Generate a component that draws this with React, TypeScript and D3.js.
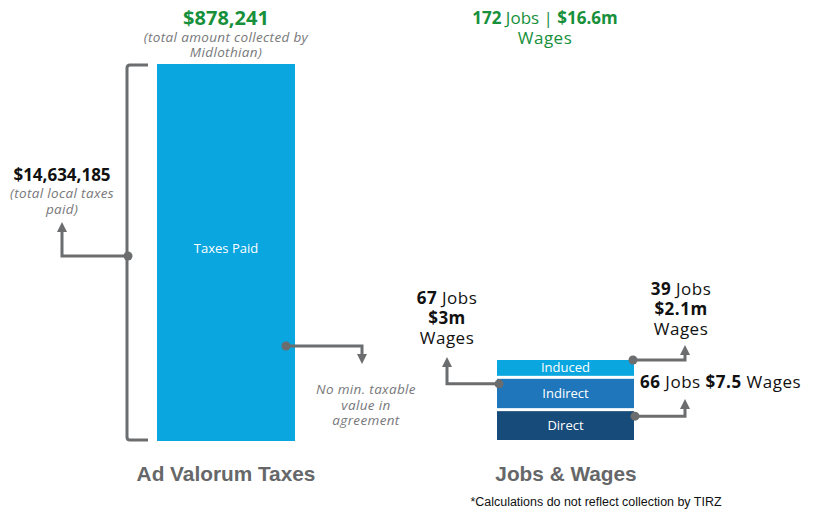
import React from 'react';
import * as d3 from 'd3';

// ad valorum taxes
const taxLabels = ['Taxes Paid'];
const taxValues = [14634185];
const taxCollected = 878241;

// jobs & wages, stacked bottom to top
const jobCategories = ['Direct', 'Indirect', 'Induced'];
const jobCounts = [66, 67, 39];
const jobWages = ['$7.5', '$3m', '$2.1m'];
const totalWages = '$16.6m';

const W = 817;
const H = 512;
const FONT = "'Open Sans', sans-serif";
const GREEN = '#17903b';
const LINE = '#6b6d6f';
const GREY_TXT = '#77787a';
const segColors = ['#174b7a', '#1f76ba', '#09a6df'];

function Arrow({ x, y, dir }: { x: number; y: number; dir: 'up' | 'down' }) {
  const s = dir === 'up' ? 1 : -1;
  const p = `M${x},${y} L${x - 5},${y + 10 * s} L${x + 5},${y + 10 * s} Z`;
  return <path d={p} fill={LINE} />;
}

const italic = { fill: GREY_TXT, fontStyle: 'italic', fontSize: 13.5, letterSpacing: 0.35 } as const;
const callout = { fill: '#111', fontSize: 17, letterSpacing: 0.5 } as const;

export default function App() {
  const totalJobs = d3.sum(jobCounts);

  // left bar
  const xTax = d3.scaleBand().domain(taxLabels).range([157, 295]).padding(0);
  const yTax = d3.scaleLinear().domain([0, d3.max(taxValues) as number]).range([441, 64]);

  // right stacked bar
  const xJobs = d3.scaleBand().domain(['Jobs']).range([497, 634]).padding(0);
  const yJobs = d3.scaleLinear().domain([0, totalJobs]).range([443, 360]);
  const row: Record<string, number> = {};
  jobCategories.forEach((c, i) => (row[c] = jobCounts[i]));
  const stacked = d3.stack<Record<string, number>>().keys(jobCategories)([row]);
  const gap = 3;

  const bx = xTax('Taxes Paid') as number;
  const bw = xTax.bandwidth();
  const top = yTax(taxValues[0]);
  const bot = yTax(0);
  const bracketX = bx - 30;
  const midY = yTax(taxValues[0] * 0.5) - 4;

  const jx = xJobs('Jobs') as number;
  const jw = xJobs.bandwidth();
  const segTop = (i: number) => yJobs(stacked[i][0][1]);

  const indirectDot = { x: jx + 2, y: segTop(1) + 5 };
  const inducedDot = { x: jx + jw - 1, y: segTop(2) };
  const directDot = { x: jx + jw + 1, y: segTop(0) + 5 };
  const elbowR = 685;
  const elbowL = 447;

  return (
    <div style={{ position: 'absolute', left: 0, top: 0 }}>
      <svg width={W} height={H} style={{ display: 'block', background: '#fff' }} fontFamily={FONT}>
        {/* headers */}
        <text x={226} y={25} textAnchor="middle" fill={GREEN} fontWeight={700} fontSize={20}>
          ${d3.format(',')(taxCollected)}
        </text>
        <text x={226} y={42} textAnchor="middle" {...italic}>(total amount collected by</text>
        <text x={226} y={57} textAnchor="middle" {...italic}>Midlothian)</text>

        <text x={545} y={24} textAnchor="middle" fill={GREEN} fontSize={17}>
          <tspan fontWeight={700}>{totalJobs}</tspan> Jobs | <tspan fontWeight={700}>{totalWages}</tspan>
        </text>
        <text x={545} y={44} textAnchor="middle" fill={GREEN} fontSize={17} letterSpacing={0.5}>Wages</text>

        {/* taxes bar */}
        {taxValues.map((v, i) => (
          <g key={taxLabels[i]}>
            <rect x={xTax(taxLabels[i])} y={yTax(v)} width={bw} height={yTax(0) - yTax(v)} fill="#09a6df" />
            <text x={bx + bw / 2} y={midY} dy="0.35em" textAnchor="middle" fill="#fff" fontSize={13}>
              {taxLabels[i]}
            </text>
          </g>
        ))}

        {/* bracket */}
        <path
          d={`M${bx - 9},${top + 1} L${bracketX + 3},${top + 1} Q${bracketX},${top + 1} ${bracketX},${top + 4} L${bracketX},${bot - 4} Q${bracketX},${bot - 1} ${bracketX + 3},${bot - 1} L${bx - 9},${bot - 1}`}
          fill="none" stroke={LINE} strokeWidth={3}
        />
        <circle cx={bracketX + 1} cy={256} r={4.5} fill={LINE} />
        <path d={`M${bracketX + 1},256 L62,256 L62,231`} fill="none" stroke={LINE} strokeWidth={3} />
        <Arrow x={62} y={222} dir="up" />
        <text x={62} y={181} textAnchor="middle" fill="#111" fontWeight={700} fontSize={17}>
          ${d3.format(',')(taxValues[0])}
        </text>
        <text x={62} y={198} textAnchor="middle" {...italic}>(total local taxes</text>
        <text x={62} y={214} textAnchor="middle" {...italic}>paid)</text>

        {/* no min taxable */}
        <circle cx={bx + bw - 9} cy={346} r={4.5} fill={LINE} />
        <path d={`M${bx + bw - 9},346 L362,346 L362,356`} fill="none" stroke={LINE} strokeWidth={3} />
        <Arrow x={362} y={364} dir="down" />
        {['No min. taxable', 'value in', 'agreement'].map((t, i) => (
          <text key={t} x={366} y={394 + i * 15.5} textAnchor="middle" {...italic}>{t}</text>
        ))}

        {/* stacked jobs bar */}
        {stacked.map((s, i) => {
          const y0 = yJobs(s[0][0]);
          const y1 = yJobs(s[0][1]);
          return (
            <g key={s.key}>
              <rect x={jx} y={y1} width={jw} height={y0 - y1 - gap} fill={segColors[i]} />
              <text x={jx + jw / 2} y={(y0 - gap + y1) / 2} dy="0.35em" textAnchor="middle" fill="#fff" fontSize={13}>
                {s.key}
              </text>
            </g>
          );
        })}

        {/* indirect callout */}
        <circle cx={indirectDot.x} cy={indirectDot.y} r={4.5} fill={LINE} />
        <path d={`M${indirectDot.x},${indirectDot.y} L${elbowL},${indirectDot.y} L${elbowL},367`} fill="none" stroke={LINE} strokeWidth={3} />
        <Arrow x={elbowL} y={357} dir="up" />
        <text x={447} y={304} textAnchor="middle" {...callout}>
          <tspan fontWeight={700}>{jobCounts[1]}</tspan> Jobs
        </text>
        <text x={447} y={324} textAnchor="middle" {...callout} fontWeight={700}>{jobWages[1]}</text>
        <text x={447} y={344} textAnchor="middle" {...callout}>Wages</text>

        {/* induced callout */}
        <circle cx={inducedDot.x} cy={inducedDot.y} r={4.5} fill={LINE} />
        <path d={`M${inducedDot.x},${inducedDot.y} L${elbowR},${inducedDot.y} L${elbowR},354`} fill="none" stroke={LINE} strokeWidth={3} />
        <Arrow x={elbowR} y={345} dir="up" />
        <text x={681} y={295} textAnchor="middle" {...callout}>
          <tspan fontWeight={700}>{jobCounts[2]}</tspan> Jobs
        </text>
        <text x={681} y={315} textAnchor="middle" {...callout} fontWeight={700}>{jobWages[2]}</text>
        <text x={681} y={335} textAnchor="middle" {...callout}>Wages</text>

        {/* direct callout */}
        <circle cx={directDot.x} cy={directDot.y} r={4.5} fill={LINE} />
        <path d={`M${directDot.x},${directDot.y} L${elbowR},${directDot.y} L${elbowR},408`} fill="none" stroke={LINE} strokeWidth={3} />
        <Arrow x={elbowR} y={399} dir="up" />
        <text x={640} y={388} {...callout}>
          <tspan fontWeight={700}>{jobCounts[0]}</tspan> Jobs <tspan fontWeight={700}>{jobWages[0]}</tspan> Wages
        </text>

        {/* titles */}
        <text x={226} y={481} textAnchor="middle" fill="#666769" fontWeight={700} fontSize={20.8}
          fontFamily="'Liberation Sans', Arial, sans-serif">Ad Valorum Taxes</text>
        <text x={566} y={481} textAnchor="middle" fill="#666769" fontWeight={700} fontSize={20.8}
          fontFamily="'Liberation Sans', Arial, sans-serif">Jobs &amp; Wages</text>
        <text x={596} y={506} textAnchor="middle" fill="#111" fontSize={12}
          fontFamily="'Liberation Sans', Arial, sans-serif" textLength={251} lengthAdjust="spacingAndGlyphs">
          *Calculations do not reflect collection by TIRZ
        </text>
      </svg>
    </div>
  );
}
